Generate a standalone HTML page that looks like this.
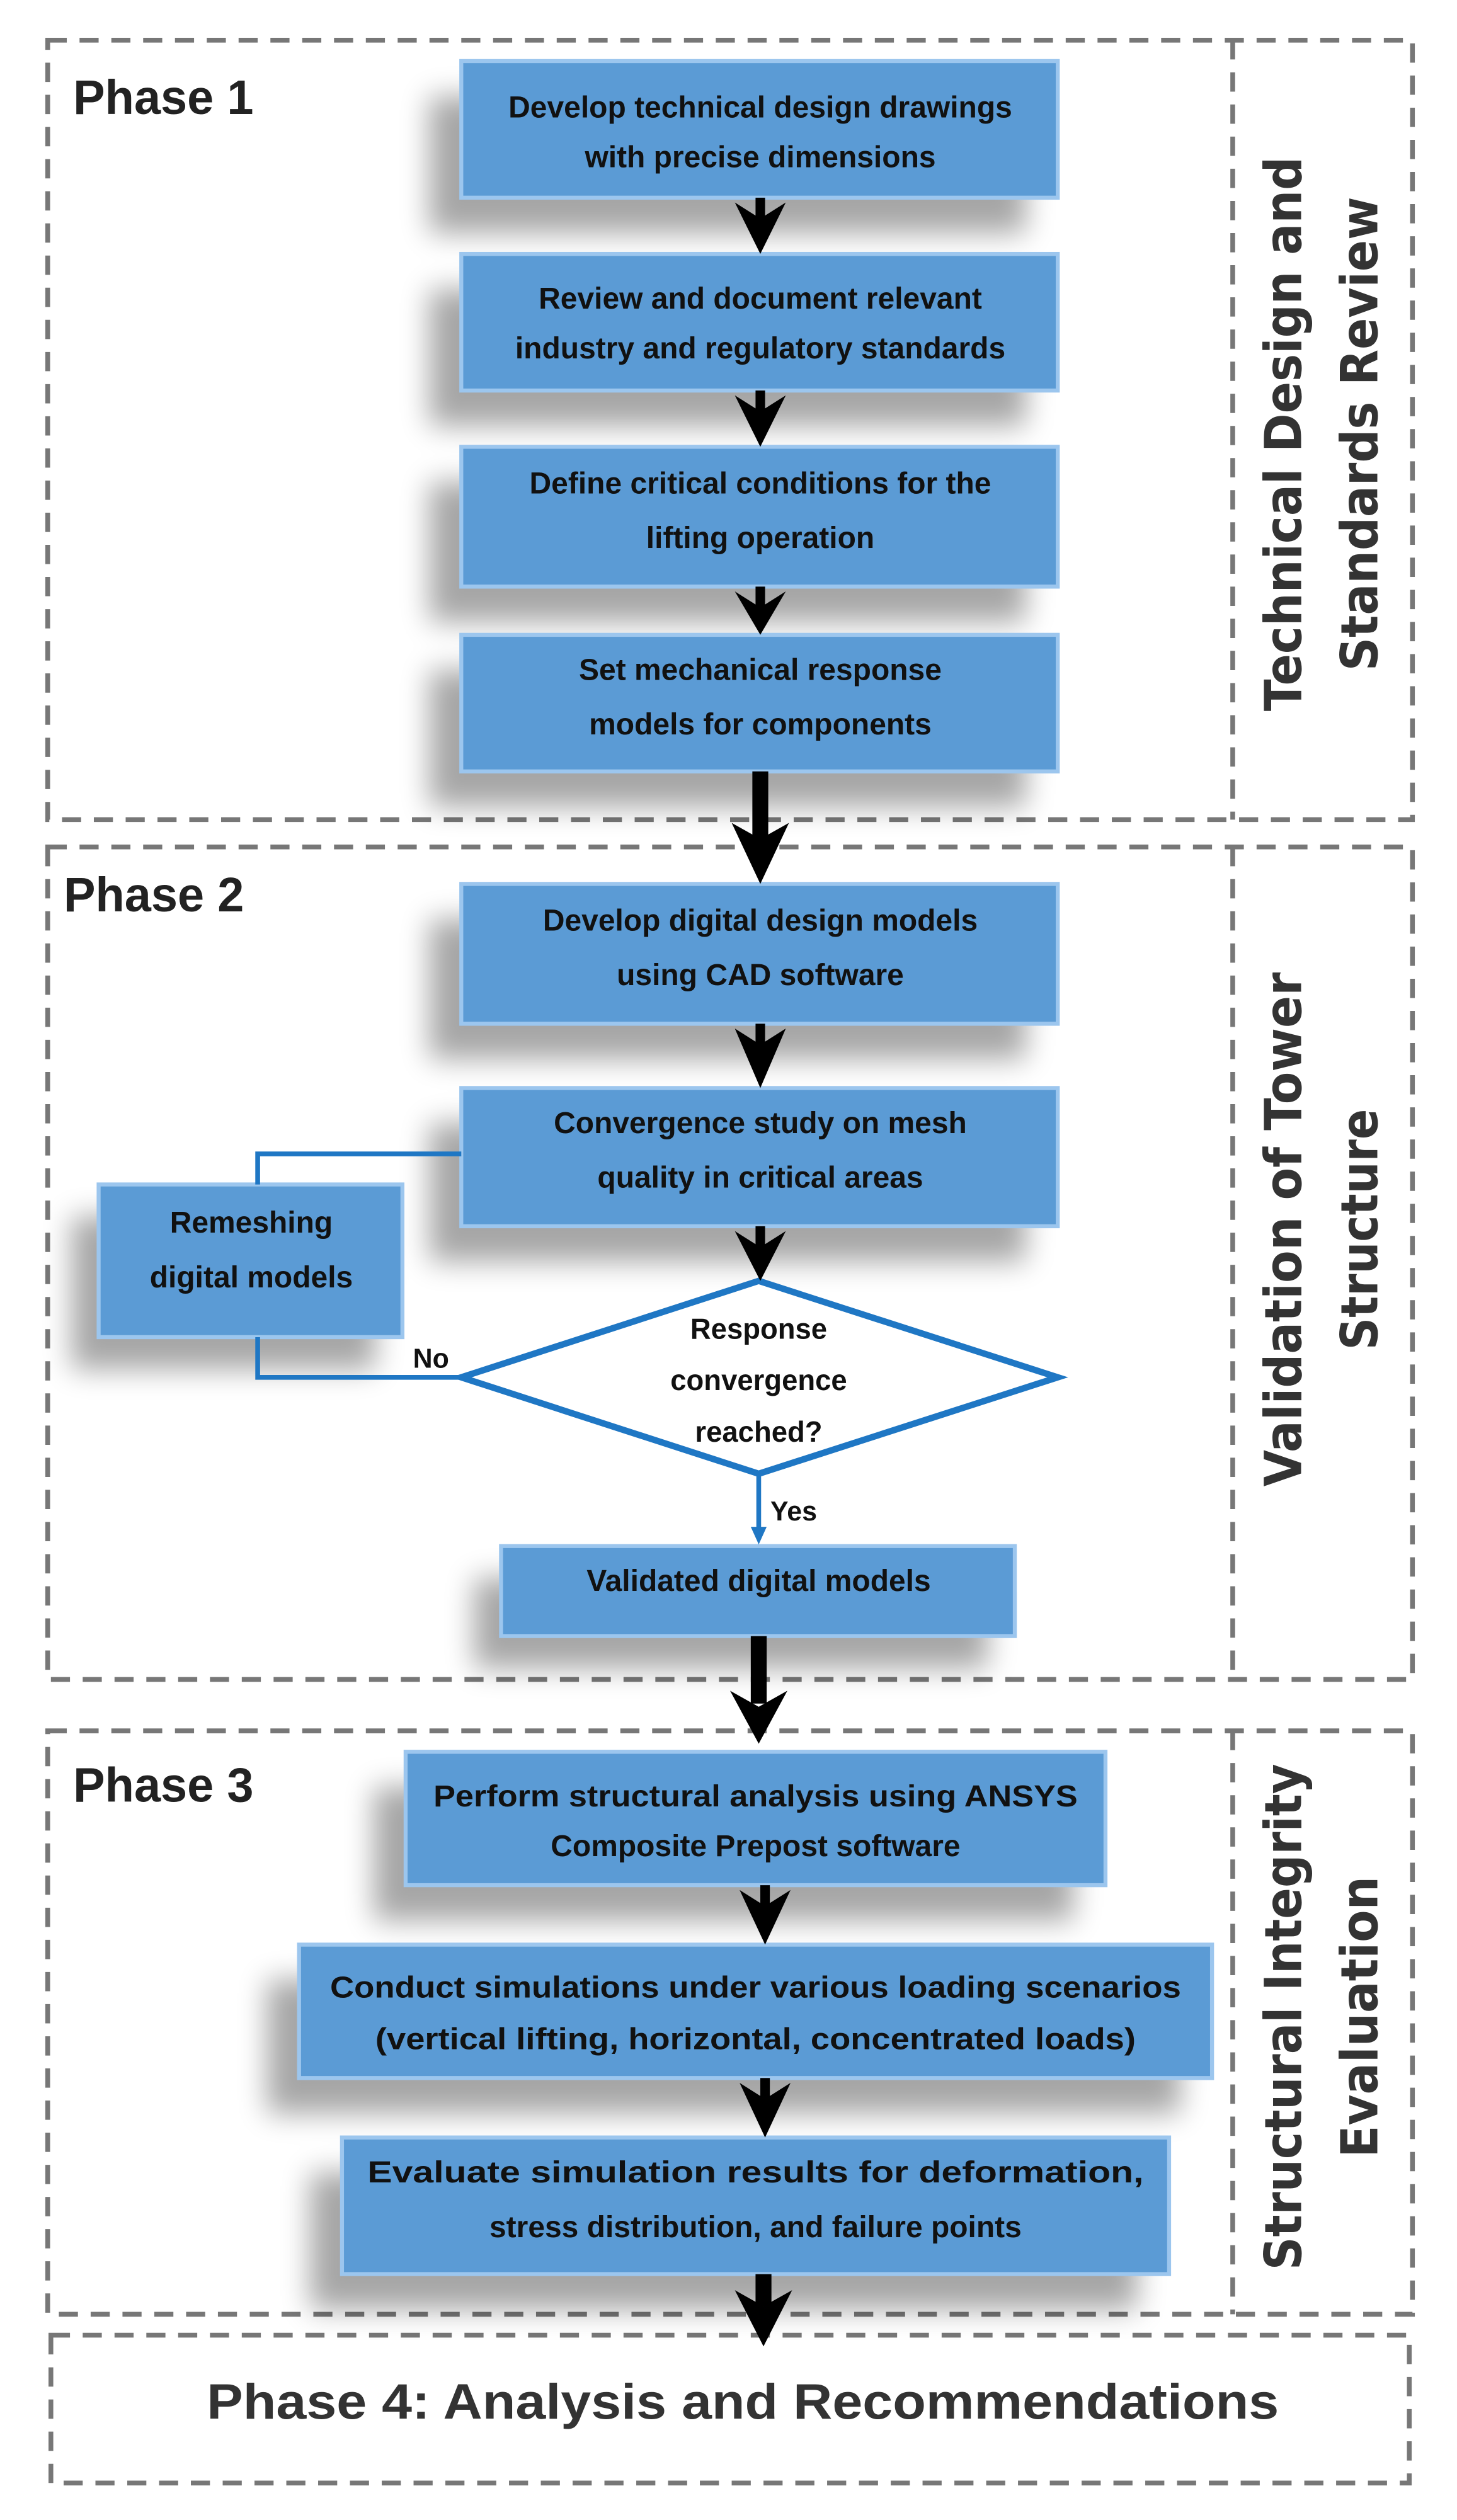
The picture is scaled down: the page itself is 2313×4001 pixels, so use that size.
<!DOCTYPE html>
<html><head><meta charset="utf-8"><style>html,body{margin:0;padding:0;background:#fff}svg{display:block}</style></head>
<body>
<svg width="2313" height="4001" viewBox="0 0 916 1568" preserveAspectRatio="none" xmlns="http://www.w3.org/2000/svg">
<defs>
<filter id="sh" x="-30%" y="-30%" width="160%" height="180%"><feGaussianBlur stdDeviation="9"/></filter>
</defs>
<g fill="none" stroke="#777" stroke-width="3" stroke-dasharray="12 8">
<rect x="30" y="25" width="858" height="485"/><line x1="775" y1="25" x2="775" y2="510"/>
<rect x="30" y="527" width="858" height="518"/><line x1="775" y1="527" x2="775" y2="1045"/>
<rect x="30" y="1077" width="858" height="363"/><line x1="775" y1="1077" x2="775" y2="1440"/>
<rect x="32" y="1453" width="854" height="92"/>
</g>
<g fill="#000" opacity="0.35" filter="url(#sh)">
<rect x="270" y="60" width="375" height="85"/><rect x="270" y="180" width="375" height="85"/>
<rect x="270" y="300" width="375" height="87"/><rect x="270" y="417" width="375" height="85"/>
<rect x="270" y="572" width="375" height="87"/><rect x="270" y="699" width="375" height="86"/>
<rect x="45" y="757" width="191" height="95"/><rect x="298" y="982" width="323" height="56"/>
<rect x="235" y="1112" width="440" height="83"/><rect x="168" y="1232" width="574" height="83"/>
<rect x="195" y="1352" width="520" height="85"/>
</g>
<g fill="#5B9BD5" stroke="#9CC6EE" stroke-width="2.5">
<rect x="290" y="38" width="375" height="85"/><rect x="290" y="158" width="375" height="85"/>
<rect x="290" y="278" width="375" height="87"/><rect x="290" y="395" width="375" height="85"/>
<rect x="290" y="550" width="375" height="87"/><rect x="290" y="677" width="375" height="86"/>
<rect x="62" y="737" width="191" height="95"/><rect x="315" y="962" width="323" height="56"/>
<rect x="255" y="1090" width="440" height="83"/><rect x="188" y="1210" width="574" height="83"/>
<rect x="215" y="1330" width="520" height="85"/>
</g>
<!-- connectors -->
<g fill="none" stroke="#1F77C4" stroke-width="3">
<polyline points="290,718 162,718 162,737"/>
<polyline points="162,832 162,857 290,857"/>
<line x1="477" y1="917" x2="477" y2="953"/>
</g>
<polygon points="472,950 482,950 477,961" fill="#1F77C4"/>
<polygon points="477,797 665,857 477,917 290,857" fill="#fff" stroke="#1F77C4" stroke-width="4"/>
<g fill="#000">
<g stroke="#000" stroke-width="6">
<line x1="478" y1="123" x2="478" y2="140"/><line x1="478" y1="243" x2="478" y2="260"/>
<line x1="478" y1="365" x2="478" y2="380"/><line x1="478" y1="637" x2="478" y2="655"/>
<line x1="478" y1="763" x2="478" y2="780"/><line x1="481" y1="1173" x2="481" y2="1190"/>
<line x1="481" y1="1293" x2="481" y2="1310"/>
</g>
<g stroke="#000" stroke-width="10">
<line x1="478" y1="480" x2="478" y2="525"/><line x1="477" y1="1018" x2="477" y2="1060"/>
<line x1="480" y1="1415" x2="480" y2="1435"/>
</g>
<polygon points="462,126 478,136 494,126 478,158"/>
<polygon points="462,246 478,256 494,246 478,278"/>
<polygon points="462,368 478,378 494,368 478,395"/>
<polygon points="460,512 478,522 496,512 478,550"/>
<polygon points="462,640 478,650 494,640 478,677"/>
<polygon points="462,766 478,776 494,766 478,797"/>
<polygon points="459,1052 477,1062 495,1052 477,1085"/>
<polygon points="465,1176 481,1186 497,1176 481,1210"/>
<polygon points="465,1296 481,1306 497,1296 481,1330"/>
<polygon points="462,1425 480,1435 498,1425 480,1460"/>
</g>
<g font-family="Liberation Sans, sans-serif" font-weight="bold" fill="#111" text-anchor="middle" font-size="19">
<text x="478" y="73">Develop technical design drawings</text>
<text x="478" y="104">with precise dimensions</text>
<text x="478" y="192">Review and document relevant</text>
<text x="478" y="223">industry and regulatory standards</text>
<text x="478" y="307">Define critical conditions for the</text>
<text x="478" y="341">lifting operation</text>
<text x="478" y="423">Set mechanical response</text>
<text x="478" y="457">models for components</text>
<text x="478" y="579">Develop digital design models</text>
<text x="478" y="613">using CAD software</text>
<text x="478" y="705">Convergence study on mesh</text>
<text x="478" y="739">quality in critical areas</text>
<text x="158" y="767">Remeshing</text>
<text x="158" y="801">digital models</text>
<text x="477" y="833" font-size="18">Response</text>
<text x="477" y="865" font-size="18">convergence</text>
<text x="477" y="897" font-size="18">reached?</text>
<text x="271" y="851" font-size="17">No</text>
<text x="499" y="946" font-size="17">Yes</text>
<text x="477" y="990">Validated digital models</text>
<text x="475" y="1124" textLength="405" lengthAdjust="spacingAndGlyphs">Perform structural analysis using ANSYS</text>
<text x="475" y="1155">Composite Prepost software</text>
<text x="475" y="1243" textLength="535" lengthAdjust="spacingAndGlyphs">Conduct simulations under various loading scenarios</text>
<text x="475" y="1275" textLength="478" lengthAdjust="spacingAndGlyphs">(vertical lifting, horizontal, concentrated loads)</text>
<text x="475" y="1358" textLength="488" lengthAdjust="spacingAndGlyphs">Evaluate simulation results for deformation,</text>
<text x="475" y="1392">stress distribution, and failure points</text>
<text x="467" y="1505" font-size="31" fill="#333" textLength="674" lengthAdjust="spacingAndGlyphs">Phase 4: Analysis and Recommendations</text>
</g>
<g font-family="Liberation Sans, sans-serif" font-weight="bold" fill="#222" font-size="30">
<text x="46" y="71">Phase 1</text>
<text x="40" y="567">Phase 2</text>
<text x="46" y="1121">Phase 3</text>
</g>
<g font-family="DejaVu Sans, sans-serif" font-weight="bold" fill="#333" font-size="32" text-anchor="middle">
<text transform="translate(818,270) rotate(-90)" textLength="345" lengthAdjust="spacingAndGlyphs">Technical Design and</text>
<text transform="translate(866,270) rotate(-90)" textLength="295" lengthAdjust="spacingAndGlyphs">Standards Review</text>
<text transform="translate(818,765) rotate(-90)" textLength="320" lengthAdjust="spacingAndGlyphs">Validation of Tower</text>
<text transform="translate(866,765) rotate(-90)" textLength="150" lengthAdjust="spacingAndGlyphs">Structure</text>
<text transform="translate(818,1255) rotate(-90)" textLength="315" lengthAdjust="spacingAndGlyphs">Structural Integrity</text>
<text transform="translate(866,1255) rotate(-90)" textLength="175" lengthAdjust="spacingAndGlyphs">Evaluation</text>
</g>
</svg>
</body></html>
